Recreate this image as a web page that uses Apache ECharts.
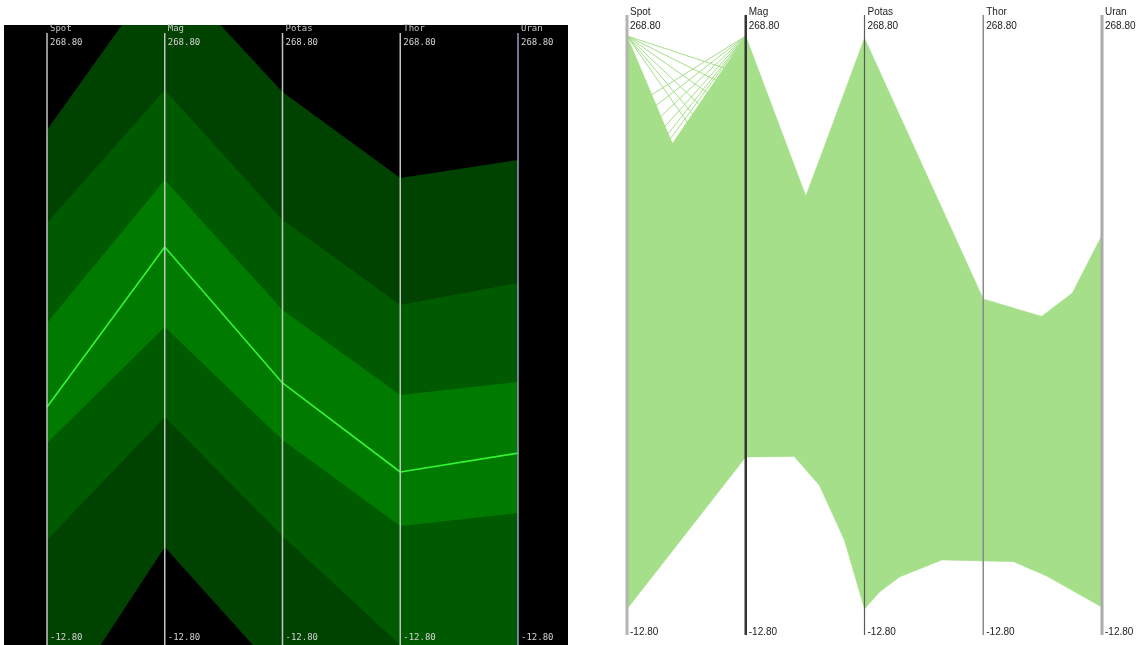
<!DOCTYPE html>
<html><head><meta charset="utf-8">
<script src="https://cdn.jsdelivr.net/npm/echarts@6/dist/echarts.min.js"></script>
<style>html,body{margin:0;padding:0;background:#fff;}#c{width:1148px;height:645px;}</style>
</head><body><div id="c"></div>
<script>
// ---------- data ----------
const dims = ['Spot', 'Mag', 'Potas', 'Thor', 'Uran'];
const axisMax = 268.8, axisMin = -12.8;
const axisMaxLabel = '268.80', axisMinLabel = '-12.80';

// Left plot: density bands (outer -> inner), upper / lower value per axis
const band1Upper = [224.2, 300.1, 241.7, 202.1, 210.4];
const band1Lower = [-50.5, 32.3, -28.0, -65.7, -74.9];
const band2Upper = [181.4, 242.6, 182.8, 143.6, 153.8];
const band2Lower = [35.5, 92.1, 37.4, -12.8, -19.7];
const band3Upper = [135.4, 201.2, 141.3, 102.2, 108.2];
const band3Lower = [80.1, 133.5, 81.5, 42.0, 47.9];
const meanLine   = [96.7, 170.3, 107.8, 66.8, 75.5];

// Right plot: extreme polylines per segment [value at left axis, value at right axis]
const spotMagLines   = [[268.8, 131.9], [184.0, 268.8], [-10.4, 63.7]];
const magPotasLines  = [[268.8, 114.8], [111.9, 267.8], [63.7, 64.2], [91.0, 24.7], [128.3, 1.8], [187.9, -10.4]];
const potasThorLines = [[267.8, 140.7], [14.5, 13.0], [-10.4, 55.2], [-7.6, 35.9], [-1.6, 21.6]];
const thorUranLines  = [[140.7, 123.4], [110.7, 154.5], [58.8, 171.8], [13.0, 11.6], [19.0, -5.9], [23.1, -9.5]];
// sparse lines above the dense region between Spot and Mag
const spotMagStray = [[268.8, 249.8], [268.8, 240], [268.8, 228], [268.8, 214], [268.8, 200], [268.8, 186],
                      [232.7, 268.8], [224, 268.8], [214, 268.8], [204, 268.8], [196, 268.8], [190, 268.8]];

// ---------- styles ----------
const bandColors = ['#004300', '#005b00', '#007b00'];
const meanColor = '#33f533';
const leftAxisColors = ['#c4c4c4', '#c4c4c4', '#c4c4c4', '#c4c4c4', '#9c9cc4'];
const rightAxisColors = ['#b4b4b4', '#353535', '#5a5a5a', '#8a8a8a', '#ababab'];
const rightAxisWidths = [3, 2.5, 1.2, 1.5, 3];
const GREEN = '#a5df89';
const LEFT_VIEW_MAX = axisMax + (axisMax - axisMin) * 8 / 612; // axis top sits 8px below panel top

const bandsUpper = [band1Upper, band2Upper, band3Upper];
const bandsLower = [band1Lower, band2Lower, band3Lower];
const rightSegments = [spotMagLines, magPotasLines, potasThorLines, thorUranLines];

function bandItem(params, api) {
  const k = params.dataIndex;
  const up = bandsUpper[k].map((v, i) => api.coord([i, v]));
  const lo = bandsLower[k].map((v, i) => api.coord([i, v])).reverse();
  return { type: 'polygon', shape: { points: up.concat(lo) },
           style: { fill: bandColors[k], stroke: null } };
}

function envelopeItem(params, api) {
  const seg = params.dataIndex;
  const lines = rightSegments[seg];
  const ts = [0, 1];
  for (let i = 0; i < lines.length; i++) for (let j = i + 1; j < lines.length; j++) {
    const d = (lines[i][1] - lines[i][0]) - (lines[j][1] - lines[j][0]);
    if (d !== 0) { const t = (lines[j][0] - lines[i][0]) / d; if (t > 0 && t < 1) ts.push(t); }
  }
  ts.sort((a, b) => a - b);
  const top = [], bot = [];
  ts.forEach(t => {
    let hi = -Infinity, lo = Infinity;
    lines.forEach(([a, b]) => { const v = a + (b - a) * t; if (v > hi) hi = v; if (v < lo) lo = v; });
    top.push(api.coord([seg + t, hi]));
    bot.push(api.coord([seg + t, lo]));
  });
  return { type: 'polygon', shape: { points: top.concat(bot.reverse()) },
           style: { fill: GREEN, stroke: GREEN, lineWidth: 0.5 } };
}

function strayItem(params, api) {
  const [a, b] = spotMagStray[params.dataIndex];
  const p1 = api.coord([0, a]), p2 = api.coord([1, b]);
  return { type: 'line', shape: { x1: p1[0], y1: p1[1], x2: p2[0], y2: p2[1] },
           style: { stroke: GREEN, lineWidth: 1 } };
}

function leftAxisItem(params, api) {
  const i = params.dataIndex;
  const pT = api.coord([i, axisMax]), pB = api.coord([i, axisMin]);
  const font = '9px "DejaVu Sans Mono"';
  return { type: 'group', children: [
    { type: 'line', shape: { x1: pT[0], y1: pT[1], x2: pB[0], y2: pB[1] },
      style: { stroke: leftAxisColors[i], lineWidth: 1.5 } },
    { type: 'text', x: pT[0] + 3, y: pT[1] - 4,
      style: { text: dims[i], fill: '#c8c8c8', font: font, align: 'left', verticalAlign: 'middle' } },
    { type: 'text', x: pT[0] + 3, y: pT[1] + 10,
      style: { text: axisMaxLabel, fill: '#d4d4d4', font: font, align: 'left', verticalAlign: 'middle' } },
    { type: 'text', x: pB[0] + 3, y: pB[1] - 7,
      style: { text: axisMinLabel, fill: '#d4d4d4', font: font, align: 'left', verticalAlign: 'middle' } }
  ] };
}

function rightAxisItem(params, api) {
  const i = params.dataIndex;
  const pT = api.coord([i, axisMax]), pB = api.coord([i, axisMin]);
  const font = '10px "Liberation Sans"';
  return { type: 'group', children: [
    { type: 'line', shape: { x1: pT[0], y1: pT[1] - 21, x2: pB[0], y2: pB[1] + 21 },
      style: { stroke: rightAxisColors[i], lineWidth: rightAxisWidths[i] } },
    { type: 'text', x: pT[0] + 3, y: pT[1] - 24,
      style: { text: dims[i], fill: '#222', font: font, align: 'left', verticalAlign: 'middle' } },
    { type: 'text', x: pT[0] + 3, y: pT[1] - 9.5,
      style: { text: axisMaxLabel, fill: '#222', font: font, align: 'left', verticalAlign: 'middle' } },
    { type: 'text', x: pB[0] + 3, y: pB[1] + 18,
      style: { text: axisMinLabel, fill: '#222', font: font, align: 'left', verticalAlign: 'middle' } }
  ] };
}

const chart = echarts.init(document.getElementById('c'), null, { renderer: 'canvas' });
chart.setOption({
  animation: false,
  backgroundColor: '#ffffff',
  graphic: [
    { type: 'rect', left: 4, top: 25, shape: { width: 564, height: 620 }, style: { fill: '#000' }, z: 0 }
  ],
  grid: [
    { left: 47, top: 25, width: 471, height: 620 },
    { left: 627, top: 36, width: 475, height: 578 }
  ],
  xAxis: [
    { type: 'value', gridIndex: 0, min: 0, max: dims.length - 1, show: false },
    { type: 'value', gridIndex: 1, min: 0, max: dims.length - 1, show: false }
  ],
  yAxis: [
    { type: 'value', gridIndex: 0, min: axisMin, max: LEFT_VIEW_MAX, show: false },
    { type: 'value', gridIndex: 1, min: axisMin, max: axisMax, show: false }
  ],
  series: [
    { type: 'custom', xAxisIndex: 0, yAxisIndex: 0, clip: true, z: 2, renderItem: bandItem,
      data: bandColors.map((c, k) => [k, 0]), silent: true },
    { type: 'line', xAxisIndex: 0, yAxisIndex: 0, z: 3, symbol: 'none', silent: true,
      lineStyle: { color: meanColor, width: 1.6 }, data: meanLine.map((v, i) => [i, v]) },
    { type: 'custom', xAxisIndex: 0, yAxisIndex: 0, z: 4, renderItem: leftAxisItem,
      data: dims.map((d, i) => [i, 0]), silent: true },
    { type: 'custom', xAxisIndex: 1, yAxisIndex: 1, z: 2, renderItem: envelopeItem,
      data: rightSegments.map((s, i) => [i, 0]), silent: true },
    { type: 'custom', xAxisIndex: 1, yAxisIndex: 1, z: 2, renderItem: strayItem,
      data: spotMagStray.map((s, i) => [0, s[0]]), silent: true },
    { type: 'custom', xAxisIndex: 1, yAxisIndex: 1, z: 4, renderItem: rightAxisItem,
      data: dims.map((d, i) => [i, 0]), silent: true }
  ]
});
</script></body></html>
